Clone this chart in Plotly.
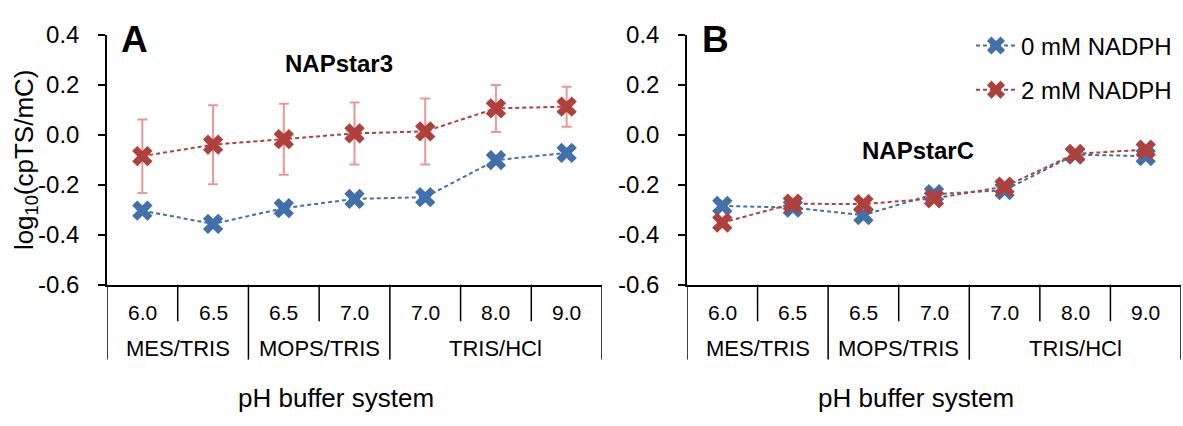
import plotly.graph_objects as go

# pH values (one per buffer condition) and buffer groups
ph_labels = ["6.0", "6.5", "6.5", "7.0", "7.0", "8.0", "9.0"]
buffer_groups = ["MES/TRIS", "MOPS/TRIS", "TRIS/HCl"]
group_sizes = [2, 2, 3]

# NAPstar3 (panel A)
a_0mm = [-0.304, -0.357, -0.294, -0.257, -0.250, -0.102, -0.073]
a_0mm_err = [0.016, 0, 0, 0, 0, 0, 0]
a_2mm = [-0.086, -0.040, -0.018, 0.005, 0.013, 0.105, 0.112]
a_2mm_err = [0.147, 0.158, 0.142, 0.124, 0.132, 0.094, 0.080]

# NAPstarC (panel B)
b_0mm = [-0.285, -0.292, -0.322, -0.238, -0.222, -0.080, -0.086]
b_2mm = [-0.352, -0.276, -0.278, -0.255, -0.208, -0.077, -0.060]

series_names = ["0 mM NADPH", "2 mM NADPH"]
y_ticks = [0.4, 0.2, 0.0, -0.2, -0.4, -0.6]

BLUE = "#4170AB"
RED = "#B0403C"
BLUE_ERR = "#9DB6D8"
RED_ERR = "#E59A98"
FONT = "Liberation Sans, Arial, sans-serif"

W, H = 1183, 426
xs = list(range(len(ph_labels)))

fig = go.Figure()


def add_series(y, name, color, xaxis, yaxis, err=None, err_color=None, show=False):
    fig.add_trace(go.Scatter(
        x=xs, y=y, name=name, mode="lines+markers",
        line=dict(color=color, width=2, dash="4px,3px"),
        marker=dict(symbol="x", size=18, color=color, line=dict(width=0)),
        error_y=(dict(type="data", array=err, visible=True, color=err_color,
                      thickness=2, width=5) if err is not None else None),
        xaxis=xaxis, yaxis=yaxis, showlegend=show, legendgroup=name,
    ))


add_series(a_0mm, series_names[0], BLUE, "x", "y", a_0mm_err, BLUE_ERR)
add_series(a_2mm, series_names[1], RED, "x", "y", a_2mm_err, RED_ERR)
add_series(b_0mm, series_names[0], BLUE, "x2", "y2", show=True)
add_series(b_2mm, series_names[1], RED, "x2", "y2", show=True)

# plot-area placement (paper fractions)
y_dom = [(H - 289) / H, (H - 22) / H]
xa_dom = [107 / W, 602 / W]
xb_dom = [687 / W, 1181 / W]

axis_common = dict(showgrid=False, zeroline=False, showline=True,
                   linecolor="black", linewidth=1.5)
yaxis_common = dict(domain=y_dom, range=[-0.6, 0.4], tickvals=y_ticks,
                    ticktext=[f"{v:.1f}" for v in y_ticks], ticks="outside",
                    ticklen=7, tickwidth=1.5, tickcolor="black",
                    ticklabelstandoff=14, tickfont=dict(size=24), **axis_common)
fig.update_layout(
    width=W, height=H, margin=dict(l=0, r=0, t=0, b=0),
    paper_bgcolor="white", plot_bgcolor="white",
    font=dict(family=FONT, color="black", size=24),
    xaxis=dict(domain=xa_dom, range=[-0.5, 6.5], showticklabels=False,
               ticks="", anchor="y", **axis_common),
    xaxis2=dict(domain=xb_dom, range=[-0.5, 6.5], showticklabels=False,
                ticks="", anchor="y2", **axis_common),
    yaxis=dict(anchor="x", **yaxis_common),
    yaxis2=dict(anchor="x2", **yaxis_common),
    legend=dict(x=971 / W, y=1 - 10 / H, xanchor="left", yanchor="top",
                font=dict(size=24), bgcolor="rgba(0,0,0,0)",
                tracegroupgap=10, itemwidth=40),
)


def label(x, y, text, size, xref="paper", bold=False, angle=0):
    fig.add_annotation(x=x, y=y, xref=xref, yref="paper",
                       text=f"<b>{text}</b>" if bold else text,
                       showarrow=False, xanchor="center", yanchor="middle",
                       textangle=angle, font=dict(size=size))


# multi-level category axis: pH row, buffer row, separators
y_axis_px = 289
short_bottom = 328
long_bottom = 369
for xr in ["x", "x2"]:
    for i, lab in enumerate(ph_labels):
        label(i, (H - 319) / H, lab, 21, xref=xr)
    start = 0
    long_edges = [-0.5]
    for g, n in zip(buffer_groups, group_sizes):
        label(start + (n - 1) / 2, (H - 357) / H, g, 22, xref=xr)
        start += n
        long_edges.append(start - 0.5)
    for k in range(len(ph_labels) + 1):
        edge = k - 0.5
        bottom = long_bottom if edge in long_edges else short_bottom
        fig.add_shape(type="line", xref=xr, yref="paper",
                      x0=edge, x1=edge, y0=(H - y_axis_px) / H, y1=(H - bottom) / H,
                      line=dict(color="black", width=1.5))

# axis titles
label(25 / W, (H - 156) / H, "log<sub>10</sub>(cpTS/mC)", 26, angle=-90)
for cx in [336, 916]:
    label(cx / W, (H - 410) / H, "pH buffer system", 26)

# panel letters and construct names
label(134 / W, (H - 27) / H, "A", 37, bold=True)
label(716 / W, (H - 27) / H, "B", 37, bold=True)
label(339 / W, (H - 53) / H, "NAPstar3", 24, bold=True)
label(918 / W, (H - 146) / H, "NAPstarC", 24, bold=True)

fig.write_html("out.html",
               post_script="document.body.style.margin='0';")
